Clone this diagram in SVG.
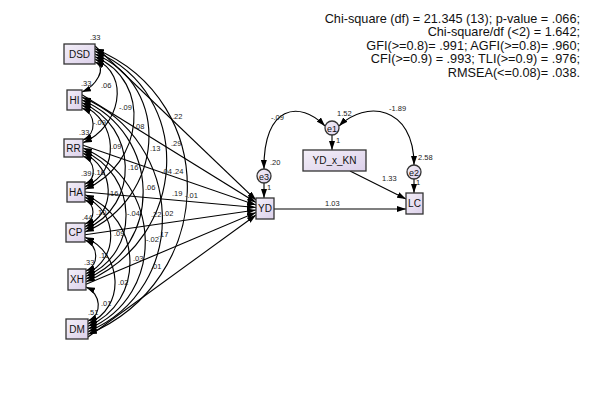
<svg xmlns="http://www.w3.org/2000/svg" width="592" height="411" viewBox="0 0 592 411">
<defs>
<linearGradient id="fillg" x1="0" y1="0" x2="1" y2="1">
<stop offset="0" stop-color="#f3eff8"/>
<stop offset="1" stop-color="#dcd0ea"/>
</linearGradient>
<marker id="ah" markerUnits="userSpaceOnUse" markerWidth="9" markerHeight="6" viewBox="0 0 9 6" refX="9" refY="3" orient="auto-start-reverse">
<path d="M0,0 L9,3 L0,6 z" fill="#000"/>
</marker>
</defs>
<style>
.box{fill:url(#fillg);stroke:#333;stroke-width:1.3}
.lbl{font-family:"Liberation Sans",Arial,sans-serif;font-size:10px;fill:#111;text-anchor:middle}
.num{font-family:"Liberation Sans",Arial,sans-serif;font-size:7.5px;fill:#222}
.fit{font-family:"Liberation Sans",Arial,sans-serif;font-size:12.7px;fill:#111;text-anchor:end}
.arc{fill:none;stroke:#000;stroke-width:1.15;marker-start:url(#ah);marker-end:url(#ah)}
.reg{fill:none;stroke:#000;stroke-width:1.1;marker-end:url(#ah)}
</style>
<rect width="592" height="411" fill="#fff"/>

<g id="connectors">
<path class="arc" d="M95,62 C108.2,67.6 95.2,86.4 82,92"/>
<path class="arc" d="M95,59.3 C131.7,74.9 119.7,127.1 83,142.7"/>
<path class="arc" d="M95,56.7 C153.3,81.5 143.3,164.5 85,189.3"/>
<path class="arc" d="M95,54 C173.3,87.3 163.3,198.7 85,232"/>
<path class="arc" d="M95,51.3 C196.4,94.4 187.4,238.6 86,281.7"/>
<path class="arc" d="M95,48.7 C222.7,102.1 215.7,280.9 88,334.3"/>
<path class="arc" d="M82,108 C96.1,114 97.1,134 83,140"/>
<path class="arc" d="M82,105.3 C117.8,120.5 120.8,171.5 85,186.7"/>
<path class="arc" d="M82,102.7 C137.7,126.4 140.7,205.6 85,229.3"/>
<path class="arc" d="M82,100 C160.8,133.5 164.8,245.5 86,279"/>
<path class="arc" d="M82,97.3 C185.1,141.1 191.1,287.9 88,331.7"/>
<path class="arc" d="M83,156 C95.3,161.2 97.3,178.8 85,184"/>
<path class="arc" d="M83,153.3 C115.3,167 117.3,213 85,226.7"/>
<path class="arc" d="M83,150.7 C138.3,174.2 141.3,252.8 86,276.3"/>
<path class="arc" d="M83,148 C162.6,181.8 167.6,295.2 88,329"/>
<path class="arc" d="M85,200 C95.6,204.5 95.6,219.5 85,224"/>
<path class="arc" d="M85,197.3 C118.6,211.6 119.6,259.4 86,273.7"/>
<path class="arc" d="M85,194.7 C142.9,219.3 145.9,301.7 88,326.3"/>
<path class="arc" d="M85,240 C98.6,245.8 99.6,265.2 86,271"/>
<path class="arc" d="M85,237.3 C123,253.5 126,307.5 88,323.7"/>
<path class="arc" d="M86,287 C101,293.4 103,314.6 88,321"/>
<path class="reg" d="M95,46 L256,200"/>
<path class="reg" d="M82,94.7 L256,202.5"/>
<path class="reg" d="M83,145.3 L256,205"/>
<path class="reg" d="M85,192 L256,207.5"/>
<path class="reg" d="M85,234.7 L256,210"/>
<path class="reg" d="M86,284.3 L256,212.5"/>
<path class="reg" d="M88,337 L256,215"/>
<path class="reg" d="M264,183 L264,198"/>
<path class="reg" d="M332,135 L332,150"/>
<path class="reg" d="M414,179 L414,193"/>
<path class="arc" d="M325,126 C300,100 263,105 264,169"/>
<path class="arc" d="M339,126 C365,100 414,105 414,165"/>
<path class="reg" d="M350,171 L406,199"/>
<path class="reg" d="M274,209 L406,209"/>
</g>

<g id="DSD"><rect class="box" x="64" y="44" width="31" height="20"/><text class="lbl" x="79.5" y="57.5">DSD</text></g>
<g id="HI"><rect class="box" x="67" y="90" width="15" height="20"/><text class="lbl" x="74.5" y="103.5">HI</text></g>
<g id="RR"><rect class="box" x="64" y="139" width="19" height="18"/><text class="lbl" x="73.5" y="151.5">RR</text></g>
<g id="HA"><rect class="box" x="67" y="182" width="18" height="20"/><text class="lbl" x="76" y="195.5">HA</text></g>
<g id="CP"><rect class="box" x="66" y="223" width="19" height="19"/><text class="lbl" x="75.5" y="236">CP</text></g>
<g id="XH"><rect class="box" x="68" y="269" width="18" height="21"/><text class="lbl" x="77" y="283">XH</text></g>
<g id="DM"><rect class="box" x="66" y="319" width="22" height="20"/><text class="lbl" x="77" y="332.5">DM</text></g>
<g id="YD"><rect class="box" x="256" y="198" width="18" height="21"/><text class="lbl" x="265" y="212">YD</text></g>
<g id="LC"><rect class="box" x="406" y="193" width="17" height="21"/><text class="lbl" x="414.5" y="207">LC</text></g>
<g id="YD_x_KN"><rect class="box" x="303" y="150" width="63" height="21"/><text class="lbl" x="334.5" y="164">YD_x_KN</text></g>
<g id="e1"><circle class="box" cx="332" cy="128" r="7"/><text class="lbl" x="332" y="131.5" style="font-size:9px">e1</text></g>
<g id="e2"><circle class="box" cx="414" cy="172" r="7"/><text class="lbl" x="414" y="175.5" style="font-size:9px">e2</text></g>
<g id="e3"><circle class="box" cx="264" cy="176" r="7"/><text class="lbl" x="264" y="179.5" style="font-size:9px">e3</text></g>

<g id="labels">
<text class="num" x="90" y="40">.33</text>
<text class="num" x="81" y="86">.33</text>
<text class="num" x="79" y="135">.33</text>
<text class="num" x="81" y="176">.39</text>
<text class="num" x="82" y="220">.44</text>
<text class="num" x="84" y="265">.33</text>
<text class="num" x="88" y="315">.51</text>
<text class="num" x="101" y="88">.06</text>
<text class="num" x="119" y="110">-.09</text>
<text class="num" x="93" y="125">-.09</text>
<text class="num" x="134" y="129">.08</text>
<text class="num" x="111" y="149">.09</text>
<text class="num" x="150" y="151">.13</text>
<text class="num" x="128" y="170">.16</text>
<text class="num" x="161.5" y="174">.04</text>
<text class="num" x="173" y="174">.24</text>
<text class="num" x="92" y="175">-.10</text>
<text class="num" x="108" y="196">.16</text>
<text class="num" x="145" y="190">.06</text>
<text class="num" x="172" y="119">.22</text>
<text class="num" x="171" y="146">.29</text>
<text class="num" x="172" y="196">.19</text>
<text class="num" x="185" y="198">-.01</text>
<text class="num" x="127" y="216">-.04</text>
<text class="num" x="151" y="217">.22</text>
<text class="num" x="163" y="216">.02</text>
<text class="num" x="96" y="215">.10</text>
<text class="num" x="114" y="236">.09</text>
<text class="num" x="146" y="242">-.02</text>
<text class="num" x="158" y="237">.17</text>
<text class="num" x="133" y="261">.03</text>
<text class="num" x="151" y="269">.01</text>
<text class="num" x="99" y="258">.11</text>
<text class="num" x="118" y="285">.02</text>
<text class="num" x="101" y="306">.01</text>
<text class="num" x="271" y="120">-.09</text>
<text class="num" x="337" y="116">1.52</text>
<text class="num" x="389" y="111">-1.89</text>
<text class="num" x="336" y="143">1</text>
<text class="num" x="270" y="165">.20</text>
<text class="num" x="267" y="190">1</text>
<text class="num" x="418" y="160">2.58</text>
<text class="num" x="416" y="185">1</text>
<text class="num" x="382" y="181">1.33</text>
<text class="num" x="325" y="206">1.03</text>
</g>

<g id="fit">
<text class="fit" x="580" y="22.5">Chi-square (df) = 21.345 (13); p-value = .066;</text>
<text class="fit" x="580" y="36">Chi-square/df (&lt;2) = 1.642;</text>
<text class="fit" x="580" y="49.5">GFI(&gt;=0.8)= .991; AGFI(&gt;=0.8)= .960;</text>
<text class="fit" x="580" y="63">CFI(&gt;=0.9) = .993; TLI(&gt;=0.9) = .976;</text>
<text class="fit" x="580" y="76.5">RMSEA(&lt;=0.08)= .038.</text>
</g>
</svg>
